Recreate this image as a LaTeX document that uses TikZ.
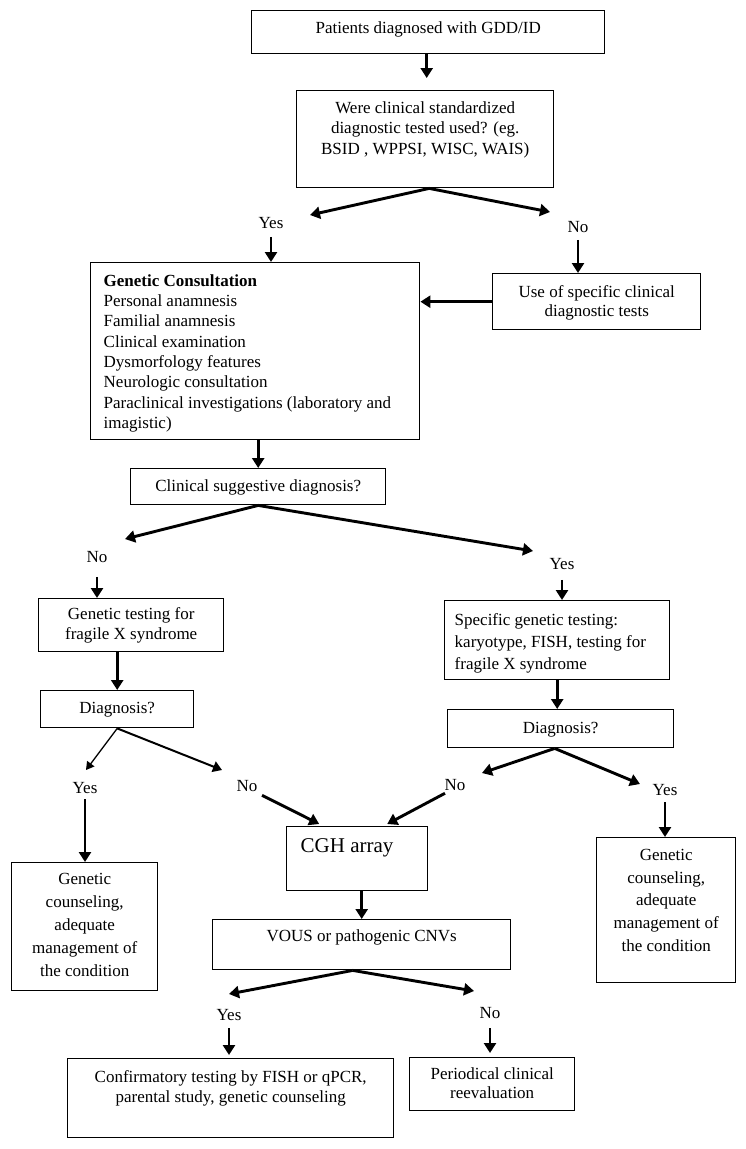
\documentclass[tikz,border=0pt]{standalone}
\usepackage{fontspec}
\setmainfont{Liberation Serif}
\usetikzlibrary{arrows.meta,calc}
\newcommand{\bxt}[6]{\begin{minipage}[t][#2pt][t]{#1pt}\fontsize{17}{#4}\selectfont#5\rule{0pt}{#3pt}#6\end{minipage}}
\tikzset{
  bx/.style={draw, line width=1.4pt, inner sep=0pt, anchor=north west},
  lbl/.style={inner sep=0pt, font=\fontsize{17}{20}\selectfont},
  arr/.style={line width=2.9pt, -{Triangle[length=10pt,width=12pt]}},
  marr/.style={line width=2pt, -{Triangle[length=9pt,width=11pt]}},
  tarr/.style={line width=1.3pt, -{Triangle[length=8pt,width=9pt]}},
}
\begin{document}
\begin{tikzpicture}[x=1pt,y=-1pt]
\useasboundingbox (0,0) rectangle (746,1149);
% boxes
\node[bx] (b1) at (251,10) {\bxt{353}{43}{22.5}{20}{\centering}{Patients diagnosed with GDD/ID}};
\node[bx] (b2) at (296,90) {\bxt{257}{97}{22.5}{20.5}{\centering}{Were clinical standardized\\ diagnostic tested used? (eg.\\ BSID , WPPSI, WISC, WAIS)}};
\node[bx] (gc) at (90,262) {\bxt{329}{177}{23.5}{20.3}{\raggedright\leftskip=13pt\relax}{\textbf{Genetic Consultation}\\ Personal anamnesis\\ Familial anamnesis\\ Clinical examination\\ Dysmorfology features\\ Neurologic consultation\\ Paraclinical investigations (laboratory and\\ imagistic)}};
\node[bx] (use) at (492,273) {\bxt{208}{56}{23.5}{19.5}{\centering}{Use of specific clinical\\ diagnostic tests}};
\node[bx] (clin) at (130,468) {\bxt{255}{36}{22.5}{20}{\centering}{Clinical suggestive diagnosis?}};
\node[bx] (gt) at (38,598) {\bxt{185}{53}{20.5}{20}{\centering}{Genetic testing for\\ fragile X syndrome}};
\node[bx] (spec) at (444,600) {\bxt{225}{79}{24.5}{22}{\raggedright\leftskip=10pt\relax}{Specific genetic testing:\\ karyotype, FISH, testing for\\ fragile X syndrome}};
\node[bx] (dl) at (40,690) {\bxt{153}{37}{22.5}{20}{\centering}{Diagnosis?}};
\node[bx] (dr) at (447,709) {\bxt{226}{38}{23.5}{20}{\centering}{Diagnosis?}};
\node[bx] (cl) at (11,862) {\bxt{146}{128}{21.5}{23}{\centering}{Genetic\\ counseling,\\ adequate\\ management of\\ the condition}};
\node[bx] (cr) at (596,837) {\bxt{139}{145}{22.5}{22.8}{\centering}{Genetic\\ counseling,\\ adequate\\ management of\\ the condition}};
\node[bx] (cgh) at (286,826) {\bxt{141}{64}{26}{24}{\raggedright\leftskip=14pt\relax\fontsize{21}{24}\selectfont}{CGH array}};
\node[bx] (vous) at (212,919) {\bxt{298}{50}{21.5}{20}{\centering}{VOUS or pathogenic CNVs}};
\node[bx] (conf) at (67,1058) {\bxt{326}{79}{23.5}{20}{\centering}{Confirmatory testing by FISH or qPCR,\\ parental study, genetic counseling}};
\node[bx] (per) at (409,1057) {\bxt{165}{53}{21.5}{19}{\centering}{Periodical clinical\\ reevaluation}};
% labels
\node[lbl] (yes1) at (271,223) {Yes};
\node[lbl] (no1) at (578,227) {No};
\node[lbl] (no2) at (97,557) {No};
\node[lbl] (yes2) at (562,564) {Yes};
\node[lbl] (yes3) at (85,788) {Yes};
\node[lbl] (no3) at (247,786) {No};
\node[lbl] (no4) at (455,785) {No};
\node[lbl] (yes4) at (665,790) {Yes};
\node[lbl] (yes5) at (229,1015) {Yes};
\node[lbl] (no5) at (490,1013) {No};
% free ends
\coordinate (c2a) at (310,215);
\coordinate (c2b) at (550,212);
\coordinate (c7a) at (125,539);
\coordinate (c7b) at (533,551);
\coordinate (c12a) at (86,770);
\coordinate (c12b) at (222,770);
\coordinate (c16a) at (482,773);
\coordinate (c16b) at (640,784);
\coordinate (c19a) at (229,994);
\coordinate (c19b) at (474,991);
% connectors
\draw[arr, shorten >=12pt] ([xshift=-1.5pt]b1.south) -- ([xshift=-1.5pt]b1.south |- b2.north);
\draw[arr] ([xshift=4pt]b2.south) -- (c2a);
\draw[arr] ([xshift=4pt]b2.south) -- (c2b);
\draw[arr] ([yshift=-8pt]yes1.south) -- (yes1.south |- gc.north);
\draw[arr] ([yshift=-7pt]no1.south) -- (no1.south |- use.north);
\draw[arr] (use.west) -- (use.west -| gc.east);
\draw[arr] (clin.north |- gc.south) -- (clin.north);
\draw[arr] (clin.south) -- (c7a);
\draw[arr] (clin.south) -- (c7b);
\draw[arr] ([yshift=-14pt]no2.south) -- (no2.south |- gt.north);
\draw[arr] ([yshift=-10pt]yes2.south) -- (yes2.south |- spec.north);
\draw[arr] (dl.north |- gt.south) -- (dl.north);
\draw[arr] (spec.south) -- (spec.south |- dr.north);
\draw[tarr] (dl.south) -- (c12a);
\draw[marr] (dl.south) -- (c12b);
\draw[arr] ([yshift=-5.4pt]yes3.south) -- (yes3.south |- cl.north);
\draw[arr] ([xshift=15pt,yshift=-3.4pt]no3.south) -- ([xshift=-38pt,yshift=2pt]cgh.north);
\draw[arr] ([xshift=-10pt,yshift=-2.4pt]no4.south) -- ([xshift=30pt,yshift=2pt]cgh.north);
\draw[arr] ([xshift=-6pt]dr.south) -- (c16a);
\draw[arr] ([xshift=-6pt]dr.south) -- (c16b);
\draw[arr] ([yshift=-6.4pt]yes4.south) -- (yes4.south |- cr.north);
\draw[arr] (vous.north |- cgh.south) -- (vous.north);
\draw[arr] ([xshift=-9pt]vous.south) -- (c19a);
\draw[arr] ([xshift=-9pt]vous.south) -- (c19b);
\draw[arr, shorten >=3pt] ([yshift=-7.4pt]yes5.south) -- (yes5.south |- conf.north);
\draw[arr, shorten >=4pt] ([yshift=-9.4pt]no5.south) -- (no5.south |- per.north);
\end{tikzpicture}
\end{document}
